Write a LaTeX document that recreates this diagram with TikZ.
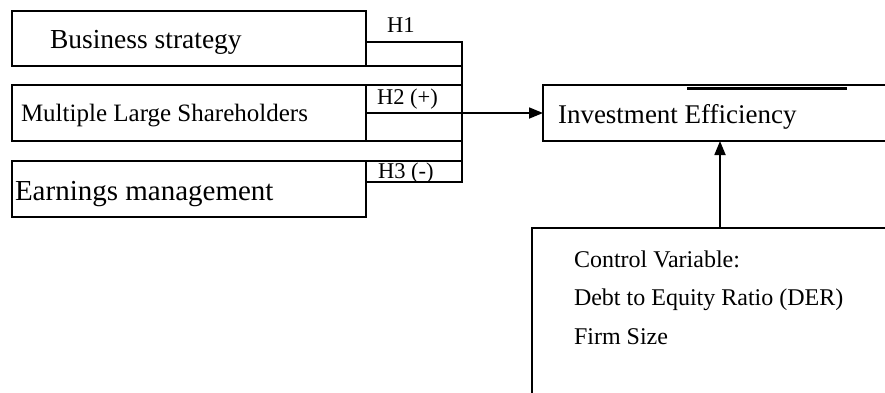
\documentclass[tikz,border=0pt]{standalone}
\usepackage{fontspec}
\setmainfont{Liberation Serif}
\usetikzlibrary{arrows.meta}
\tikzset{
  boxnode/.style={draw, rectangle, inner sep=0pt, outer sep=0pt, anchor=north west},
  txt/.style={anchor=base west, inner sep=0pt, outer sep=0pt},
  hlab/.style={txt, font=\fontsize{22.5}{26}\selectfont},
  ctl/.style={txt, font=\fontsize{24}{28}\selectfont},
  arr/.style={-{Triangle[length=14pt,width=11pt]}},
}
\begin{document}
\begin{tikzpicture}[x=1pt,y=-1pt,line width=1.8pt]
\useasboundingbox (0,0) rectangle (885,392);
\clip (0,0) rectangle (885,392);
% left boxes
\node[boxnode, minimum width=354pt, minimum height=55pt] (b1) at (12,11) {};
\node[boxnode, minimum width=354pt, minimum height=56pt] (b2) at (12,85) {};
\node[boxnode, minimum width=354pt, minimum height=56pt] (b3) at (12,161) {};
% right boxes (running off the picture)
\node[boxnode, minimum width=354pt, minimum height=56pt] (ie) at (543,85) {};
\node[boxnode, minimum width=376pt, minimum height=220pt] (cv) at (532,228) {};
% texts
\node[txt, font=\fontsize{27.5}{31}\selectfont] (t1) at (50,48) {Business strategy};
\node[txt, font=\fontsize{25}{29}\selectfont] (t2) at (21,121) {Multiple Large Shareholders};
\node[txt, font=\fontsize{29}{33}\selectfont] (t3) at (15,200) {Earnings management};
\node[txt, font=\fontsize{27}{31}\selectfont] (t4) at (558,123) {Investment Efficiency};
\node[ctl] (c1) at (574,267) {Control Variable:};
\node[ctl] (c2) at (574,305) {Debt to Equity Ratio (DER)};
\node[ctl] (c3) at (574,344) {Firm Size};
% hypothesis labels
\node[hlab] (h1) at (387,32) {H1};
\node[hlab] (h2) at (377,104) {H2 (+)};
\node[hlab] (h3) at (378,178) {H3 (-)};
% junction
\coordinate (jt) at (462,42);
\coordinate (jb) at (462,182);
% extended box edges
\draw (b1.south east) -- (b1.south east -| jt);
\draw (b2.north east) -- (b2.north east -| jt);
\draw (b2.south east) -- (b2.south east -| jt);
\draw (b3.north east) -- (b3.north east -| jt);
% hypothesis connectors
\draw (b1.east |- jt) -- (jt) -- (jb) -- (b3.east |- jb);
\draw[arr] (b2.east) -- (ie.west);
\draw[arr] (cv.north) -- (ie.south);
% thick bar inside the outcome box
\draw[line width=3pt] (687,88.5) -- (847,88.5);
\end{tikzpicture}
\end{document}
